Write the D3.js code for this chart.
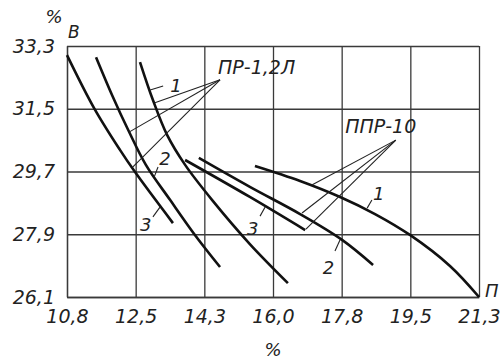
<!DOCTYPE html>
<html><head><meta charset="utf-8">
<script src="https://cdn.jsdelivr.net/npm/d3@7"></script>
<style>body{margin:0;background:#fff}svg text{font-family:"DejaVu Sans",sans-serif;font-style:italic;fill:#222}</style>
</head><body>
<svg id="c" width="504" height="359"></svg>
<script>
// ---- data ----
const xTickValues = [10.8, 12.55, 14.3, 16.05, 17.8, 19.55, 21.3];
const xTickLabels = ["10,8", "12,5", "14,3", "16,0", "17,8", "19,5", "21,3"];
const yTickValues = [26.1, 27.9, 29.7, 31.5, 33.3];
const yTickLabels = ["26,1", "27,9", "29,7", "31,5", "33,3"];

// ПР-1,2Л curves
const pr1 = [[12.66,32.84],[12.99,31.75],[13.35,30.75],[13.81,29.89],[14.50,28.88],[15.46,27.62],[16.43,26.50]];
const pr2 = [[11.54,32.98],[11.95,31.89],[12.36,30.89],[12.81,29.89],[13.43,28.88],[14.06,27.88],[14.70,26.96]];
const pr3 = [[10.80,33.04],[11.49,31.52],[12.15,30.32],[12.53,29.69],[13.50,28.22]];
// ППР-10 curves
const ppr1 = [[15.59,29.86],[16.74,29.43],[17.76,28.97],[18.65,28.48],[19.54,27.88],[20.56,26.99],[21.30,26.10]];
const ppr2 = [[14.16,30.09],[15.46,29.26],[16.74,28.48],[17.81,27.74],[18.60,27.02]];
const ppr3 = [[13.81,30.03],[15.46,28.97],[16.87,28.02]];

// group labels and leader lines (apex + targets)
const groupNames = ["ПР-1,2Л", "ППР-10"];
const groupLabelPos = [[14.65,32.50],[17.89,30.80]];
const groupApex = [[14.70,32.33],[19.18,30.60]];
const groupTargets = [
  [[13.04,31.67],[12.38,30.83],[12.48,29.83]],
  [[17.04,29.31],[16.79,28.51],[16.89,28.05]]
];
// curve numbers, their positions and short leaders
const curveNums = ["1","2","3","1","2","3"];
const curveNumPos = [[13.43,31.98],[13.15,29.89],[12.66,27.99],[18.60,28.88],[17.32,26.76],[15.39,27.88]];
const curveNumLeaders = [
  [[12.92,32.04],[13.25,32.15]],
  [[13.02,29.54],[13.12,29.83]],
  [[12.99,28.40],[13.17,28.68]],
  [[18.45,28.65],[18.57,28.88]],
  [[17.76,27.74],[17.63,27.42]],
  [[15.85,28.68],[15.72,28.42]]
];

// ---- drawing ----
const svg = d3.select("#c");
const x = d3.scaleLinear().domain([10.8, 21.3]).range([67, 479]);
const y = d3.scaleLinear().domain([26.1, 33.3]).range([297, 46]);
const plotH = 297 - 46, plotW = 479 - 67;

const gx = svg.append("g").attr("transform", "translate(0,297)")
  .call(d3.axisBottom(x).tickValues(xTickValues)
    .tickFormat((d, i) => xTickLabels[i]).tickSizeInner(-plotH).tickSizeOuter(0).tickPadding(13));
const gy = svg.append("g").attr("transform", "translate(67,0)")
  .call(d3.axisLeft(y).tickValues(yTickValues)
    .tickFormat((d, i) => yTickLabels[i]).tickSizeInner(-plotW).tickSizeOuter(0).tickPadding(12));
[gx, gy].forEach(g => {
  g.selectAll("line").attr("stroke", "#3a3a3a").attr("stroke-width", 1.3);
  g.select(".domain").attr("stroke", "#3a3a3a").attr("stroke-width", 1.3);
  g.selectAll("text").attr("font-size", 19).attr("fill", "#222")
    .style("font-family", '"DejaVu Sans",sans-serif').style("font-style", "italic");
});

const line = d3.line().x(d => x(d[0])).y(d => y(d[1])).curve(d3.curveCatmullRom.alpha(0.5));
[pr1, pr2, pr3, ppr1, ppr2, ppr3].forEach(s => {
  svg.append("path").attr("d", line(s)).attr("fill", "none")
    .attr("stroke", "#111").attr("stroke-width", 2.6).attr("stroke-linecap", "butt");
});

// group leaders
groupApex.forEach((a, gi) => {
  groupTargets[gi].forEach(t => {
    svg.append("line").attr("x1", x(a[0])).attr("y1", y(a[1]))
      .attr("x2", x(t[0])).attr("y2", y(t[1]))
      .attr("stroke", "#222").attr("stroke-width", 1.1);
  });
  svg.append("text").attr("x", x(groupLabelPos[gi][0])).attr("y", y(groupLabelPos[gi][1]))
    .attr("font-size", 19).text(groupNames[gi]);
});

// curve numbers
curveNums.forEach((n, i) => {
  const l = curveNumLeaders[i];
  svg.append("line").attr("x1", x(l[0][0])).attr("y1", y(l[0][1]))
    .attr("x2", x(l[1][0])).attr("y2", y(l[1][1]))
    .attr("stroke", "#222").attr("stroke-width", 1.1);
  svg.append("text").attr("x", x(curveNumPos[i][0])).attr("y", y(curveNumPos[i][1]))
    .attr("font-size", 18).text(n);
});

// axis titles
svg.append("text").attr("x", 54).attr("y", 23).attr("text-anchor", "middle").attr("font-size", 18).text("%");
svg.append("text").attr("x", 68).attr("y", 38).attr("font-size", 17).text("В");
svg.append("text").attr("x", 485).attr("y", 297).attr("font-size", 18).text("П");
svg.append("text").attr("x", 273).attr("y", 356).attr("text-anchor", "middle").attr("font-size", 18).text("%");
</script>
</body></html>
